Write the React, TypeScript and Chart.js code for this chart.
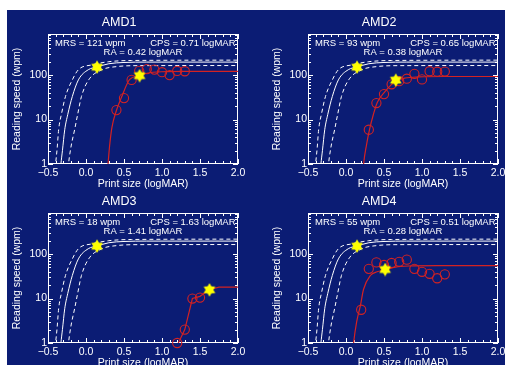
import React, { useEffect, useRef } from 'react';
import { Chart, registerables } from 'chart.js';

Chart.register(...registerables);

// ---------- data ----------
const panelNames = ['AMD1', 'AMD2', 'AMD3', 'AMD4'];
const mrsValues = [121, 93, 18, 55];
const cpsValues = [0.71, 0.65, 1.63, 0.51];
const raValues = [0.42, 0.38, 1.41, 0.28];

const xTickValues = [-0.5, 0.0, 0.5, 1.0, 1.5, 2.0];
const yTickValues = [1, 10, 100];

// normal-vision reference curves (same in every panel)
const normalMidX = [-0.335, -0.33, -0.31, -0.28, -0.24, -0.18, -0.1, 0.03, 0.145, 0.3, 0.5, 0.8, 2.0];
const normalMidY = [0.8, 1, 2, 5.9, 13, 33, 78, 132, 152, 180, 192, 196, 196];
const normalHighX = [-0.405, -0.4, -0.38, -0.36, -0.32, -0.27, -0.18, -0.1, 0.08, 0.3, 0.6, 2.0];
const normalHighY = [0.8, 1, 2.2, 5.9, 14, 33, 78, 132, 170, 200, 213, 217];
const normalLowX = [-0.235, -0.23, -0.2, -0.15, -0.11, -0.06, 0.035, 0.21, 0.4, 0.7, 2.0];
const normalLowY = [0.8, 1, 2.3, 5.9, 13, 33, 78, 132, 155, 163, 164];
const normalStarX = [0.145];
const normalStarY = [151];

// patient fitted curves
const amd1FitX = [0.285, 0.29, 0.31, 0.34, 0.4, 0.465, 0.575, 0.705, 0.8, 1.0, 1.3, 2.0];
const amd1FitY = [0.8, 1, 2.5, 6.5, 16, 31, 80, 97, 110, 119, 121, 121];
const amd2FitX = [0.228, 0.232, 0.27, 0.31, 0.36, 0.41, 0.51, 0.6, 0.655, 0.78, 0.96, 1.3, 2.0];
const amd2FitY = [0.8, 1, 2.7, 6, 13, 24, 42, 62, 74, 86, 91, 93, 93];
const amd3FitX = [1.195, 1.3, 1.4, 1.5, 1.62, 1.75, 2.0];
const amd3FitY = [0.85, 2.0, 10, 11.2, 15.8, 18, 18];
const amd4FitX = [0.095, 0.1, 0.14, 0.19, 0.23, 0.32, 0.41, 0.51, 0.65, 0.83, 1.2, 2.0];
const amd4FitY = [0.8, 1, 3, 7, 16, 33, 40, 44, 51, 54, 55, 55];

// patient measured reading speeds
const amd1X = [0.4, 0.5, 0.6, 0.7, 0.8, 0.9, 1.0, 1.1, 1.2, 1.3];
const amd1Y = [16.3, 30.4, 78, 125, 136, 133, 116, 100, 124, 122];
const amd2X = [0.3, 0.4, 0.5, 0.6, 0.7, 0.8, 0.9, 1.0, 1.1, 1.2, 1.3];
const amd2Y = [5.9, 23.5, 37.4, 62, 73, 83, 107, 80, 122, 119, 120];
const amd3X = [1.2, 1.3, 1.4, 1.5];
const amd3Y = [1.0, 2.0, 10, 10.5];
const amd4X = [0.2, 0.3, 0.4, 0.5, 0.6, 0.7, 0.8, 0.9, 1.0, 1.1, 1.2, 1.3];
const amd4Y = [5.6, 46.5, 65, 57, 63, 67, 75, 46.5, 40, 36, 28.6, 35];

// patient CPS stars
const starX = [0.705, 0.655, 1.625, 0.515];
const starY = [97, 77, 15.7, 45];

const fitXs = [amd1FitX, amd2FitX, amd3FitX, amd4FitX];
const fitYs = [amd1FitY, amd2FitY, amd3FitY, amd4FitY];
const measXs = [amd1X, amd2X, amd3X, amd4X];
const measYs = [amd1Y, amd2Y, amd3Y, amd4Y];

// ---------- styling ----------
const FONT = '"Liberation Sans", Arial, Helvetica, sans-serif';
const BG = '#0b1c74';
const RED = '#d42222';
const WHITE = '#ffffff';
const CANVAS_W = 260;
const CANVAS_H = 192;
const PLOT_BOTTOM = 164;

const zip = (xs: number[], ys: number[]) => xs.map((x, i) => ({ x, y: ys[i] }));

function makeStar(): HTMLCanvasElement {
  const c = document.createElement('canvas');
  c.width = 14;
  c.height = 14;
  const g = c.getContext('2d')!;
  g.fillStyle = '#ffff00';
  g.beginPath();
  const R = 6.7;
  const r = 3.9;
  for (let i = 0; i < 12; i++) {
    const a = -Math.PI / 2 + (i * Math.PI) / 6;
    const rad = i % 2 === 0 ? R : r;
    const px = 7 + rad * Math.cos(a);
    const py = 7 + rad * Math.sin(a);
    if (i === 0) g.moveTo(px, py);
    else g.lineTo(px, py);
  }
  g.closePath();
  g.fill();
  return c;
}

const fmtX = (v: number) => (v < 0 ? '\u2212' : '') + Math.abs(v).toFixed(1);

function Panel({ idx, left, top }: { idx: number; left: number; top: number }) {
  const ref = useRef<HTMLCanvasElement>(null);

  useEffect(() => {
    const canvas = ref.current;
    if (!canvas) return;
    const star = makeStar();

    const framePlugin = {
      id: 'frame' + idx,
      beforeDatasetsDraw(chart: any) {
        const { ctx, chartArea: a, scales } = chart;
        const xs = scales.x;
        const ys = scales.y;
        ctx.save();
        ctx.strokeStyle = WHITE;
        ctx.lineWidth = 1;
        ctx.strokeRect(a.left + 0.5, a.top + 0.5, a.right - a.left - 1, a.bottom - a.top - 1);
        ctx.beginPath();
        for (let i = -5; i <= 20; i++) {
          const px = Math.round(xs.getPixelForValue(i / 10)) + 0.5;
          const len = i % 5 === 0 ? 5 : 3;
          ctx.moveTo(px, a.bottom);
          ctx.lineTo(px, a.bottom - len);
          ctx.moveTo(px, a.top);
          ctx.lineTo(px, a.top + len);
        }
        for (let d = 1; d <= 100; d *= 10) {
          for (let m = 1; m <= 9; m++) {
            const v = d * m;
            if (v > ys.max) break;
            const py = Math.round(ys.getPixelForValue(v)) + 0.5;
            const len = m === 1 ? 5 : 3;
            ctx.moveTo(a.left, py);
            ctx.lineTo(a.left + len, py);
            ctx.moveTo(a.right, py);
            ctx.lineTo(a.right - len, py);
          }
        }
        ctx.stroke();

        ctx.fillStyle = WHITE;
        ctx.font = `9.5px ${FONT}`;
        ctx.textBaseline = 'middle';
        ctx.textAlign = 'left';
        ctx.fillText(`MRS = ${mrsValues[idx]} wpm`, a.left + 7, a.top + 9);
        ctx.textAlign = 'right';
        ctx.fillText(`CPS = ${cpsValues[idx].toFixed(2)} logMAR`, a.right - 2.5, a.top + 9);
        ctx.textAlign = 'center';
        ctx.fillText(`RA = ${raValues[idx].toFixed(2)} logMAR`, (a.left + a.right) / 2, a.top + 18.5);
        ctx.restore();
      },
    };

    const lineBase = {
      showLine: true,
      pointRadius: 0,
      pointHoverRadius: 0,
      borderWidth: 1,
      cubicInterpolationMode: 'monotone',
    };

    const datasets: any[] = [
      {
        data: zip([starX[idx]], [starY[idx]]),
        pointStyle: star,
        pointRadius: 7,
        clip: false,
      },
      {
        data: zip(normalStarX, normalStarY),
        pointStyle: star,
        pointRadius: 7,
        clip: false,
      },
      {
        data: zip(measXs[idx], measYs[idx]),
        pointStyle: 'circle',
        pointRadius: 4.6,
        pointBorderColor: RED,
        pointBackgroundColor: 'rgba(0,0,0,0)',
        pointBorderWidth: 1.1,
        clip: false,
      },
      {
        ...lineBase,
        data: zip(fitXs[idx], fitYs[idx]),
        borderColor: RED,
        borderWidth: 1.2,
        cubicInterpolationMode: idx === 2 ? 'default' : 'monotone',
        tension: 0,
      },
      { ...lineBase, data: zip(normalMidX, normalMidY), borderColor: WHITE },
      { ...lineBase, data: zip(normalHighX, normalHighY), borderColor: WHITE, borderDash: [4, 3] },
      { ...lineBase, data: zip(normalLowX, normalLowY), borderColor: WHITE, borderDash: [4, 3] },
    ];

    const chart = new Chart(canvas, {
      type: 'scatter',
      data: { datasets },
      options: {
        animation: false,
        responsive: false,
        maintainAspectRatio: false,
        devicePixelRatio: 1,
        events: [],
        layout: { padding: { left: 0, right: CANVAS_W - 238, top: 0, bottom: 0 } },
        plugins: {
          legend: { display: false },
          tooltip: { enabled: false },
          title: {
            display: true,
            text: panelNames[idx],
            color: WHITE,
            font: { family: FONT, size: 12.5, weight: 'normal' },
            padding: { top: 15, bottom: 4 },
          },
        },
        scales: {
          x: {
            type: 'linear',
            min: -0.5,
            max: 2.0,
            grid: { display: false, drawTicks: false },
            border: { display: false },
            afterBuildTicks: (s: any) => {
              s.ticks = xTickValues.map((v) => ({ value: v }));
            },
            afterFit: (s: any) => {
              s.height = CANVAS_H - PLOT_BOTTOM;
            },
            ticks: {
              color: WHITE,
              font: { family: FONT, size: 10.5 },
              padding: 3,
              maxRotation: 0,
              autoSkip: false,
              callback: (v: any) => fmtX(Number(v)),
            },
            title: {
              display: true,
              text: 'Print size (logMAR)',
              color: WHITE,
              font: { family: FONT, size: 10.5 },
              padding: { top: 0, bottom: 2 },
            },
          },
          y: {
            type: 'logarithmic',
            min: 1,
            max: 840,
            grid: { display: false, drawTicks: false },
            border: { display: false },
            afterBuildTicks: (s: any) => {
              s.ticks = yTickValues.map((v) => ({ value: v }));
            },
            afterFit: (s: any) => {
              s.width = 48;
            },
            ticks: {
              color: WHITE,
              font: { family: FONT, size: 10.5 },
              padding: 1,
              autoSkip: false,
              callback: (v: any) => String(v),
            },
            title: {
              display: true,
              text: 'Reading speed (wpm)',
              color: WHITE,
              font: { family: FONT, size: 10.5 },
              padding: { top: 11, bottom: 0 },
            },
          },
        },
      } as any,
      plugins: [framePlugin],
    });
    return () => chart.destroy();
  }, [idx]);

  return (
    <canvas
      ref={ref}
      width={CANVAS_W}
      height={CANVAS_H}
      style={{ position: 'absolute', left, top, width: CANVAS_W, height: CANVAS_H }}
    />
  );
}

const panelPositions = [
  { left: 0, top: 0 },
  { left: 260, top: 0 },
  { left: 0, top: 179 },
  { left: 260, top: 179 },
];

export default function App() {
  return (
    <div
      style={{
        position: 'fixed',
        left: 0,
        top: 0,
        width: 505,
        height: 365,
        overflow: 'hidden',
        background: '#ffffff',
      }}
    >
      <div style={{ position: 'absolute', left: 7, top: 10, right: 0, bottom: 0, background: BG }} />
      {panelPositions.map((p, i) => (
        <Panel key={i} idx={i} left={p.left} top={p.top} />
      ))}
    </div>
  );
}
